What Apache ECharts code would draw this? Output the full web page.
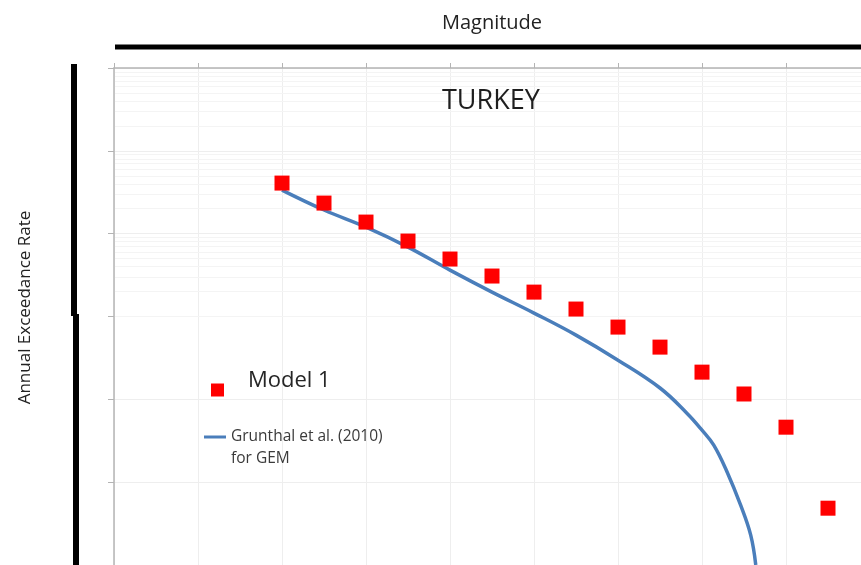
<!DOCTYPE html>
<html>
<head>
<meta charset="utf-8">
<script src="https://cdn.jsdelivr.net/npm/echarts@6/dist/echarts.min.js"></script>
<style>
html,body{margin:0;padding:0;background:#fff;}
#chart{width:861px;height:565px;}
</style>
</head>
<body>
<div id="chart"></div>
<script>
// Model 1 (red squares)
const model1Mag = [5.0, 5.25, 5.5, 5.75, 6.0, 6.25, 6.5, 6.75, 7.0, 7.25, 7.5, 7.75, 8.0, 8.25];
const model1Rate = [0.408, 0.234, 0.138, 0.0814, 0.0494, 0.0308, 0.0197, 0.0123, 0.00745, 0.00427, 0.00213, 0.00116, 0.000461, 0.0000485];

// Grunthal et al. (2010) for GEM (blue line)
const grunthalMag = [5.0, 5.25, 5.5, 5.75, 6.0, 6.25, 6.5, 6.75, 7.0, 7.25, 7.41, 7.5, 7.57, 7.65, 7.73, 7.79, 7.82];
const grunthalRate = [0.336, 0.193, 0.120, 0.0689, 0.0363, 0.0197, 0.0110, 0.00596, 0.00297, 0.00137, 0.000681, 0.000425, 0.00028, 0.000132, 0.0000527, 0.0000229, 0.00001];

const xMin = 4.0, xMax = 8.5, xStep = 0.5;
const yMin = 1e-5, yMax = 10;
const titleText = 'TURKEY';
const xName = 'Magnitude';
const yName = 'Annual Exceedance Rate';
const s1Name = 'Model 1';
const s2Name = 'Grunthal et al. (2010) for GEM';
const s2Lines = ['Grunthal et al. (2010)', 'for GEM'];

// minor log gridline values (2..9 within each decade)
const minorVals = [];
for (let e = -5; e < 1; e++) {
  for (let k = 2; k <= 9; k++) minorVals.push(k * Math.pow(10, e));
}

const font = 'Open Sans';
const chart = echarts.init(document.getElementById('chart'), null, {renderer: 'canvas'});
chart.setOption({
  backgroundColor: '#ffffff',
  animation: false,
  textStyle: {fontFamily: font},
  title: {
    text: titleText,
    left: 437,
    top: 83,
    textStyle: {fontFamily: font, fontSize: 27, fontWeight: 'normal', color: '#1e1e1e'}
  },
  grid: {left: 114, top: 68, right: -9, bottom: 0, containLabel: false, outerBoundsMode: 'none'},
  xAxis: {
    type: 'value',
    position: 'top',
    min: xMin, max: xMax, interval: xStep,
    name: xName,
    nameLocation: 'middle',
    nameGap: 35,
    nameTextStyle: {fontFamily: font, fontSize: 20, color: '#222'},
    axisLine: {show: true, lineStyle: {color: '#b4b4b4', width: 1.5}},
    axisTick: {show: true, length: 5, lineStyle: {color: '#b4b4b4'}},
    axisLabel: {show: false},
    splitLine: {show: true, lineStyle: {color: '#eeeeee', width: 1}}
  },
  yAxis: {
    type: 'log',
    logBase: 10,
    min: yMin, max: yMax,
    name: yName,
    nameLocation: 'middle',
    nameRotate: 90,
    nameGap: 80,
    nameTextStyle: {fontFamily: font, fontSize: 17, color: '#222', padding: [0, 0, 0, 18]},
    axisLine: {show: true, onZero: false, lineStyle: {color: '#b4b4b4', width: 1.5}},
    axisTick: {show: true, length: 6, lineStyle: {color: '#b4b4b4'}},
    axisLabel: {show: false},
    splitLine: {show: true, lineStyle: {color: '#eeeeee', width: 1}}
  },
  legend: [
    {
      data: [{name: s1Name, icon: 'rect'}],
      left: 206, top: 365,
      padding: 5,
      itemWidth: 13, itemHeight: 13,
      formatter: name => '{a|' + name + '}',
      textStyle: {
        rich: {a: {fontFamily: font, fontSize: 22, color: '#262626', padding: [0, 0, 18, 19]}}
      },
      selectedMode: false
    },
    {
      data: [{name: s2Name, icon: 'rect'}],
      left: 199, top: 399,
      padding: 5,
      itemWidth: 22, itemHeight: 3,
      itemStyle: {color: '#4a7ebb'},
      formatter: () => '{e| }\n{a|' + s2Lines[0] + '}\n{a|' + s2Lines[1] + '}',
      textStyle: {
        rich: {
          e: {fontFamily: font, fontSize: 15, lineHeight: 22, height: 22, color: 'transparent'},
          a: {fontFamily: font, fontSize: 15.5, lineHeight: 22, height: 22, color: '#3a3a3a'}
        }
      },
      selectedMode: false
    }
  ],
  graphic: [
    {type: 'line', shape: {x1: 115, y1: 47, x2: 861, y2: 47}, style: {stroke: '#000', lineWidth: 5}},
    {type: 'line', shape: {x1: 74, y1: 64, x2: 74, y2: 316}, style: {stroke: '#000', lineWidth: 6}},
    {type: 'line', shape: {x1: 76, y1: 314, x2: 76, y2: 565}, style: {stroke: '#000', lineWidth: 6}}
  ],
  series: [
    {
      name: '_minor',
      type: 'line',
      data: [],
      silent: true,
      z: 0,
      markLine: {
        silent: true,
        z: 0,
        symbol: 'none',
        label: {show: false},
        animation: false,
        lineStyle: {color: '#f4f4f4', type: 'solid', width: 1},
        data: minorVals.map(v => ({yAxis: v}))
      }
    },
    {
      name: s2Name,
      type: 'line',
      data: grunthalMag.map((m, i) => [m, grunthalRate[i]]),
      smooth: 0.4,
      symbol: 'none',
      lineStyle: {color: '#4a7ebb', width: 3.5},
      itemStyle: {color: '#4a7ebb'},
      z: 3
    },
    {
      name: s1Name,
      type: 'scatter',
      data: model1Mag.map((m, i) => [m, model1Rate[i]]),
      symbol: 'rect',
      symbolSize: 15,
      itemStyle: {color: '#ff0000', opacity: 1},
      z: 4
    }
  ]
});
</script>
</body>
</html>
